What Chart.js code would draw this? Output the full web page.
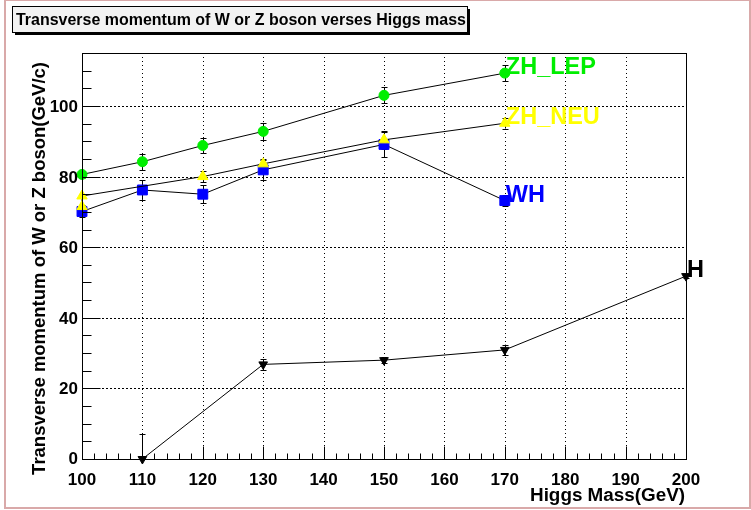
<!DOCTYPE html>
<html>
<head>
<meta charset="utf-8">
<script src="https://cdn.jsdelivr.net/npm/chart.js@4/dist/chart.umd.min.js"></script>
<style>
html,body{margin:0;padding:0;background:#fff;}
#wrap{width:751px;height:510px;position:relative;}
</style>
</head>
<body>
<div id="wrap"><canvas id="c" width="751" height="510"></canvas></div>
<script>
// ---- data ----
const masses = [100, 110, 120, 130, 150, 170];
const zhLep = [80.6, 84.2, 88.8, 92.8, 103.0, 109.3];
const zhLepErr = [1.0, 2.2, 2.2, 2.4, 2.3, 2.3];
const zhNeuMasses = [100, 100, 120, 130, 150, 170];
const zhNeu = [71.5, 74.5, 80.0, 83.6, 90.4, 95.1];
const zhNeuErr = [0.5, 0.5, 1.5, 1.5, 2.5, 1.5];
const wh = [70.1, 76.2, 75.0, 81.9, 89.1, 73.2];
const whErr = [1.5, 2.8, 2.5, 2.8, 3.6, 1.5];
const hMasses = [110, 130, 150, 170, 200];
const hVals = [0, 26.8, 28.0, 30.9, 51.8];
const hErr = [7.0, 1.5, 0.8, 1.5, 0.5];
const seriesNames = ['ZH_LEP', 'ZH_NEU', 'WH', 'H'];
const seriesColors = ['#00ee00', '#ffff00', '#0000ff', '#000000'];
const xTicks = [100, 110, 120, 130, 140, 150, 160, 170, 180, 190, 200];
const yTicks = [0, 20, 40, 60, 80, 100];
const chartTitle = 'Transverse momentum of W or Z boson verses Higgs mass';
const xTitle = 'Higgs Mass(GeV)';
const yTitle = 'Transverse momentum of W or Z boson(GeV/c)';

function pts(xs, ys) { return xs.map((x, i) => ({x: x, y: ys[i]})); }

const errSets = [
  {xs: masses, ys: zhLep, es: zhLepErr},
  {xs: zhNeuMasses, ys: zhNeu, es: zhNeuErr},
  {xs: masses, ys: wh, es: whErr},
  {xs: hMasses, ys: hVals, es: hErr}
];

const FONT = '"Liberation Sans", Arial, Helvetica, sans-serif';

function fitFont(ctx, text, width) {
  ctx.font = 'bold 20px ' + FONT;
  const w = ctx.measureText(text).width;
  const size = 20 * width / w;
  ctx.font = 'bold ' + size.toFixed(2) + 'px ' + FONT;
}

const decor = {
  id: 'decor',
  beforeDraw(chart) {
    const ctx = chart.ctx;
    ctx.save();
    ctx.fillStyle = '#fff';
    ctx.fillRect(0, 0, 751, 510);
    // outer pink frame
    ctx.strokeStyle = '#d9a9a9';
    ctx.lineWidth = 2;
    ctx.strokeRect(5, 0, 745, 508);
    // title box with shadow
    ctx.fillStyle = '#000';
    ctx.fillRect(15, 9, 455, 26);
    ctx.fillStyle = '#f2f2f2';
    ctx.fillRect(12, 6, 455, 26);
    ctx.strokeStyle = '#000';
    ctx.lineWidth = 1;
    ctx.strokeRect(12.5, 6.5, 455, 26);
    ctx.fillStyle = '#000';
    fitFont(ctx, chartTitle, 450);
    ctx.textBaseline = 'alphabetic';
    ctx.textAlign = 'left';
    ctx.fillText(chartTitle, 16, 25);
    ctx.restore();
  },
  beforeDatasetsDraw(chart) {
    const ctx = chart.ctx;
    const xs = chart.scales.x, ys = chart.scales.y;
    const a = chart.chartArea;
    ctx.save();
    // grid
    ctx.strokeStyle = '#000';
    ctx.lineWidth = 1;
    ctx.setLineDash([1, 3]);
    xTicks.forEach(v => {
      if (v === xs.min || v === xs.max) return;
      const px = Math.round(xs.getPixelForValue(v)) + 0.5;
      ctx.beginPath(); ctx.moveTo(px, a.top); ctx.lineTo(px, a.bottom); ctx.stroke();
    });
    ctx.setLineDash([2, 2]);
    yTicks.forEach(v => {
      if (v === ys.min) return;
      const py = Math.round(ys.getPixelForValue(v)) + 0.5;
      ctx.beginPath(); ctx.moveTo(a.left, py); ctx.lineTo(a.right, py); ctx.stroke();
    });
    ctx.setLineDash([]);
    // error bars
    ctx.lineWidth = 1;
    errSets.forEach(s => {
      s.xs.forEach((x, i) => {
        const px = Math.round(xs.getPixelForValue(x)) + 0.5;
        const lo = Math.max(s.ys[i] - s.es[i], ys.min);
        const hi = s.ys[i] + s.es[i];
        const pl = ys.getPixelForValue(lo), ph = ys.getPixelForValue(hi);
        ctx.beginPath();
        ctx.moveTo(px, pl); ctx.lineTo(px, ph);
        ctx.moveTo(px - 3, Math.round(ph) + 0.5); ctx.lineTo(px + 3, Math.round(ph) + 0.5);
        if (s.ys[i] - s.es[i] > ys.min) {
          ctx.moveTo(px - 3, Math.round(pl) + 0.5); ctx.lineTo(px + 3, Math.round(pl) + 0.5);
        }
        ctx.stroke();
      });
    });
    ctx.restore();
  },
  afterDraw(chart) {
    const ctx = chart.ctx;
    const xs = chart.scales.x, ys = chart.scales.y;
    const a = chart.chartArea;
    ctx.save();
    ctx.strokeStyle = '#000';
    ctx.lineWidth = 1;
    // frame
    ctx.strokeRect(Math.round(a.left) + 0.5, Math.round(a.top) + 0.5,
                   Math.round(a.right - a.left), Math.round(a.bottom - a.top));
    const bottom = Math.round(a.bottom) + 0.5;
    const left = Math.round(a.left) + 0.5;
    // x ticks (major every 10, minor every 2)
    ctx.beginPath();
    for (let v = xs.min; v <= xs.max + 1e-9; v += 2) {
      const px = Math.round(xs.getPixelForValue(v)) + 0.5;
      const major = Math.abs(v % 10) < 1e-9;
      ctx.moveTo(px, bottom); ctx.lineTo(px, bottom - (major ? 13 : 6));
    }
    // y ticks (major every 20, minor every 5)
    for (let v = ys.min; v <= ys.max + 1e-9; v += 5) {
      const py = Math.round(ys.getPixelForValue(v)) + 0.5;
      const major = Math.abs(v % 20) < 1e-9;
      ctx.moveTo(left, py); ctx.lineTo(left + (major ? 18 : 9), py);
    }
    ctx.stroke();
    // tick labels
    ctx.fillStyle = '#000';
    ctx.font = 'bold 17px ' + FONT;
    ctx.textAlign = 'center';
    ctx.textBaseline = 'alphabetic';
    xTicks.forEach(v => {
      ctx.fillText(String(v), xs.getPixelForValue(v), 484.5);
    });
    ctx.textAlign = 'right';
    yTicks.forEach(v => {
      let py = ys.getPixelForValue(v) + 6;
      if (v === ys.min) py -= 1;
      ctx.fillText(String(v), 78, py);
    });
    // axis titles
    ctx.textAlign = 'right';
    fitFont(ctx, xTitle, 155);
    ctx.fillText(xTitle, 685, 501);
    ctx.save();
    ctx.translate(45, 62);
    ctx.rotate(-Math.PI / 2);
    ctx.textAlign = 'right';
    fitFont(ctx, yTitle, 413);
    ctx.fillText(yTitle, 0, 0);
    ctx.restore();
    // series labels at last point
    ctx.font = 'bold 23.5px ' + FONT;
    ctx.textAlign = 'left';
    errSets.forEach((s, k) => {
      const n = s.xs.length - 1;
      ctx.fillStyle = seriesColors[k];
      ctx.fillText(seriesNames[k], xs.getPixelForValue(s.xs[n]) + 1, ys.getPixelForValue(s.ys[n]) + 1);
    });
    ctx.restore();
  }
};

new Chart(document.getElementById('c'), {
  type: 'line',
  data: {
    datasets: [
      {label: seriesNames[0], data: pts(masses, zhLep), borderColor: '#000', borderWidth: 1,
       pointStyle: 'circle', pointRadius: 5, pointBackgroundColor: seriesColors[0], pointBorderColor: seriesColors[0], order: 0},
      {label: seriesNames[1], data: pts(zhNeuMasses, zhNeu), borderColor: '#000', borderWidth: 1,
       pointStyle: 'triangle', pointRadius: 6, pointBackgroundColor: seriesColors[1], pointBorderColor: seriesColors[1], order: 1},
      {label: seriesNames[2], data: pts(masses, wh), borderColor: '#000', borderWidth: 1,
       pointStyle: 'rect', pointRadius: 7, pointBackgroundColor: seriesColors[2], pointBorderColor: seriesColors[2], order: 2},
      {label: seriesNames[3], data: pts(hMasses, hVals), borderColor: '#000', borderWidth: 1,
       pointStyle: 'triangle', pointRotation: 180, pointRadius: 5, pointBackgroundColor: '#000', pointBorderColor: '#000', order: 3}
    ]
  },
  options: {
    responsive: false,
    animation: false,
    events: [],
    layout: {padding: {left: 82, top: 53, right: 65, bottom: 51}},
    plugins: {legend: {display: false}, tooltip: {enabled: false}, title: {display: false}},
    elements: {line: {tension: 0, fill: false}},
    datasets: {line: {clip: false}},
    scales: {
      x: {type: 'linear', min: 100, max: 200, display: false},
      y: {type: 'linear', min: 0, max: 115, display: false}
    }
  },
  plugins: [decor]
});
</script>
</body>
</html>
